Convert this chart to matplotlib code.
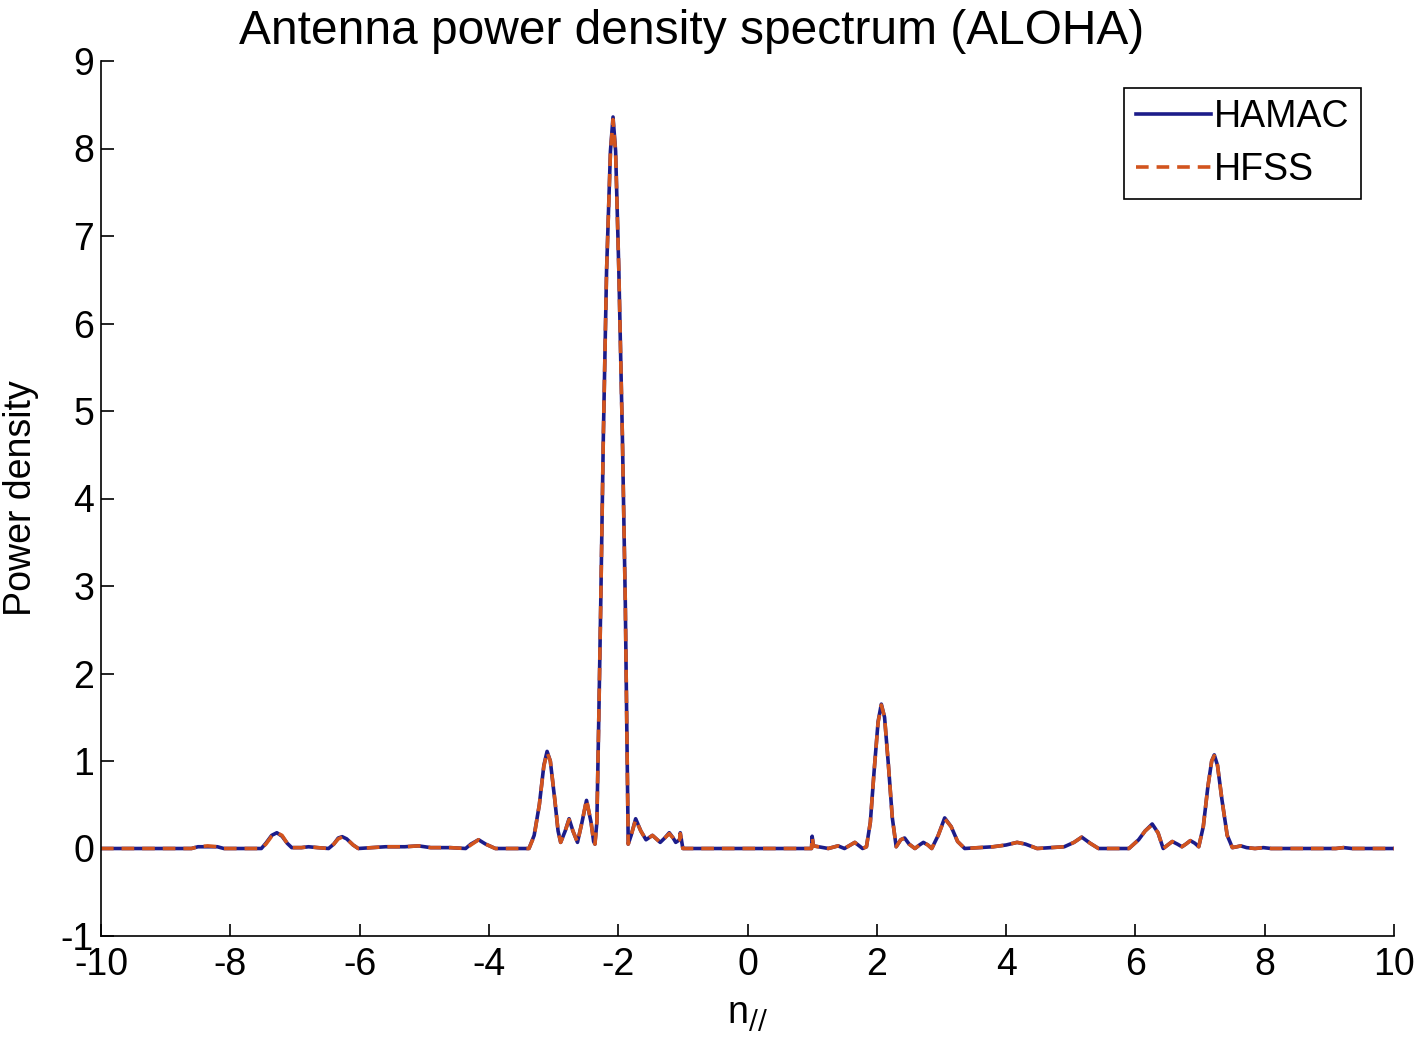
import matplotlib
matplotlib.use('Agg')
import matplotlib.pyplot as plt

plt.rcParams['font.family'] = ['Liberation Sans', 'DejaVu Sans']
plt.rcParams['axes.unicode_minus'] = False

# spectrum (n_parallel, power density)
n_par = [-10.0, -8.6, -8.5, -8.35, -8.2, -8.1, -7.52, -7.45, -7.36, -7.28, -7.2, -7.12, -7.05,
         -6.9, -6.79, -6.65, -6.48, -6.4, -6.33, -6.27, -6.2, -6.1, -6.02, -5.6, -5.3, -5.09,
         -4.9, -4.6, -4.36, -4.28, -4.16, -4.05, -3.9, -3.6, -3.38, -3.3, -3.22, -3.15, -3.1,
         -3.05, -2.98, -2.93, -2.89, -2.82, -2.76, -2.7, -2.63, -2.56, -2.49, -2.42, -2.38,
         -2.36, -2.33, -2.3, -2.27, -2.23, -2.18, -2.12, -2.08, -2.04, -1.99, -1.935, -1.89,
         -1.86, -1.845, -1.8, -1.73, -1.65, -1.57, -1.47, -1.35, -1.28, -1.21, -1.15, -1.11,
         -1.05, -1.04, -1.0, 0.99, 1.0, 1.02, 1.1, 1.25, 1.4, 1.5, 1.66, 1.78, 1.84, 1.9,
         1.96, 2.02, 2.07, 2.12, 2.18, 2.24, 2.3, 2.37, 2.43, 2.5, 2.59, 2.66, 2.72, 2.79,
         2.85, 2.95, 3.05, 3.15, 3.25, 3.36, 3.8, 4.0, 4.17, 4.3, 4.48, 4.9, 5.05, 5.17,
         5.3, 5.43, 5.9, 6.05, 6.15, 6.26, 6.35, 6.43, 6.5, 6.57, 6.65, 6.72, 6.78, 6.85,
         6.92, 6.98, 7.05, 7.12, 7.18, 7.22, 7.27, 7.34, 7.42, 7.5, 7.57, 7.63, 7.72, 7.85,
         7.98, 8.1, 9.1, 9.22, 9.35, 10.0]
hamac = [0.0, 0.0, 0.02, 0.02, 0.02, 0.0, 0.0, 0.06, 0.15, 0.18, 0.14, 0.06, 0.01,
         0.01, 0.02, 0.01, 0.0, 0.05, 0.12, 0.135, 0.11, 0.04, 0.0, 0.02, 0.02, 0.03,
         0.01, 0.01, 0.0, 0.05, 0.1, 0.05, 0.0, 0.0, 0.0, 0.15, 0.5, 0.95, 1.11,
         1.0, 0.55, 0.2, 0.07, 0.2, 0.34, 0.2, 0.07, 0.3, 0.55, 0.3, 0.08,
         0.05, 0.3, 1.5, 2.8, 4.7, 6.6, 7.97, 8.36, 7.97, 6.6, 4.7, 2.8,
         1.0, 0.05, 0.15, 0.34, 0.2, 0.1, 0.15, 0.07, 0.12, 0.18, 0.12, 0.07,
         0.1, 0.18, 0.0, 0.0, 0.14, 0.03, 0.02, 0.0, 0.03, 0.0, 0.07, 0.0, 0.02, 0.3,
         0.9, 1.45, 1.65, 1.5, 0.95, 0.35, 0.02, 0.1, 0.12, 0.05, 0.0, 0.04, 0.07, 0.04,
         0.0, 0.15, 0.35, 0.25, 0.08, 0.0, 0.02, 0.04, 0.07, 0.05, 0.0, 0.02, 0.07, 0.13,
         0.06, 0.0, 0.0, 0.1, 0.2, 0.28, 0.18, 0.0, 0.04, 0.08, 0.05, 0.02, 0.05, 0.09,
         0.06, 0.02, 0.25, 0.7, 1.0, 1.07, 0.95, 0.55, 0.15, 0.01, 0.02, 0.03, 0.01, 0.0,
         0.01, 0.0, 0.0, 0.01, 0.0, 0.0]
hfss = [0.0, 0.0, 0.02, 0.03, 0.02, 0.0, 0.0, 0.05, 0.14, 0.18, 0.15, 0.06, 0.01,
        0.01, 0.02, 0.01, 0.0, 0.05, 0.11, 0.13, 0.11, 0.04, 0.0, 0.02, 0.02, 0.03,
        0.01, 0.01, 0.0, 0.04, 0.1, 0.05, 0.0, 0.0, 0.0, 0.14, 0.5, 0.94, 1.1,
        1.0, 0.56, 0.2, 0.07, 0.2, 0.33, 0.2, 0.07, 0.3, 0.56, 0.3, 0.08,
        0.05, 0.3, 1.5, 2.8, 4.7, 6.6, 7.95, 8.33, 7.95, 6.6, 4.7, 2.8,
        1.0, 0.05, 0.15, 0.33, 0.2, 0.1, 0.15, 0.07, 0.12, 0.17, 0.12, 0.07,
        0.1, 0.17, 0.0, 0.0, 0.13, 0.03, 0.02, 0.0, 0.03, 0.0, 0.07, 0.0, 0.02, 0.3,
        0.9, 1.44, 1.64, 1.5, 0.95, 0.35, 0.02, 0.1, 0.12, 0.05, 0.0, 0.04, 0.07, 0.04,
        0.0, 0.15, 0.34, 0.25, 0.08, 0.0, 0.02, 0.04, 0.07, 0.05, 0.0, 0.02, 0.07, 0.13,
        0.06, 0.0, 0.0, 0.1, 0.2, 0.27, 0.18, 0.0, 0.04, 0.08, 0.05, 0.02, 0.05, 0.09,
        0.06, 0.02, 0.25, 0.7, 1.0, 1.06, 0.95, 0.55, 0.15, 0.01, 0.02, 0.03, 0.01, 0.0,
        0.01, 0.0, 0.0, 0.01, 0.0, 0.0]

xticks = list(range(-10, 11, 2))
yticks = list(range(-1, 10))

fig = plt.figure(figsize=(14.23, 10.37), dpi=100)
ax = fig.add_axes([101 / 1423, 101 / 1037, 1293 / 1423, 875 / 1037])

ax.plot(n_par, hamac, '-', color='#1c1c8a', lw=2.6, label='HAMAC')
ax.plot(n_par, hfss, '--', color='#d2541e', lw=2.6, dashes=(3.5, 2.2), label='HFSS')

ax.set_xlim(-10, 10)
ax.set_ylim(-1, 9)
ax.set_xticks(xticks)
ax.set_yticks(yticks)
ax.tick_params(direction='in', length=9, width=1.2, labelsize=27)
ax.tick_params(axis='x', pad=8)
ax.tick_params(axis='y', pad=5)
for s in ['top', 'right']:
    ax.spines[s].set_visible(False)
for s in ['left', 'bottom']:
    ax.spines[s].set_linewidth(1.2)

ax.set_xlabel('n$_{//}$', fontsize=27, labelpad=10)
ax.set_ylabel('Power density', fontsize=27, labelpad=16)
fig.text(692 / 1423, 1 - 31 / 1037, 'Antenna power density spectrum (ALOHA)',
         fontsize=34.5, ha='center', va='center')

leg = ax.legend(loc='upper right', bbox_to_anchor=(1, 1 + (61 - 88) / 875),
                fontsize=27, fancybox=False, framealpha=1, edgecolor='black',
                handlelength=2.0, handletextpad=0.1, borderpad=0.3, labelspacing=0.45,
                borderaxespad=0)
leg.get_frame().set_linewidth(1.2)
# nudge legend box left edge to match the reference (right edge ~1362 px)
leg.set_bbox_to_anchor((1361 / 1423, 1 - 88 / 1037), transform=fig.transFigure)

fig.savefig('out.png', dpi=100)
